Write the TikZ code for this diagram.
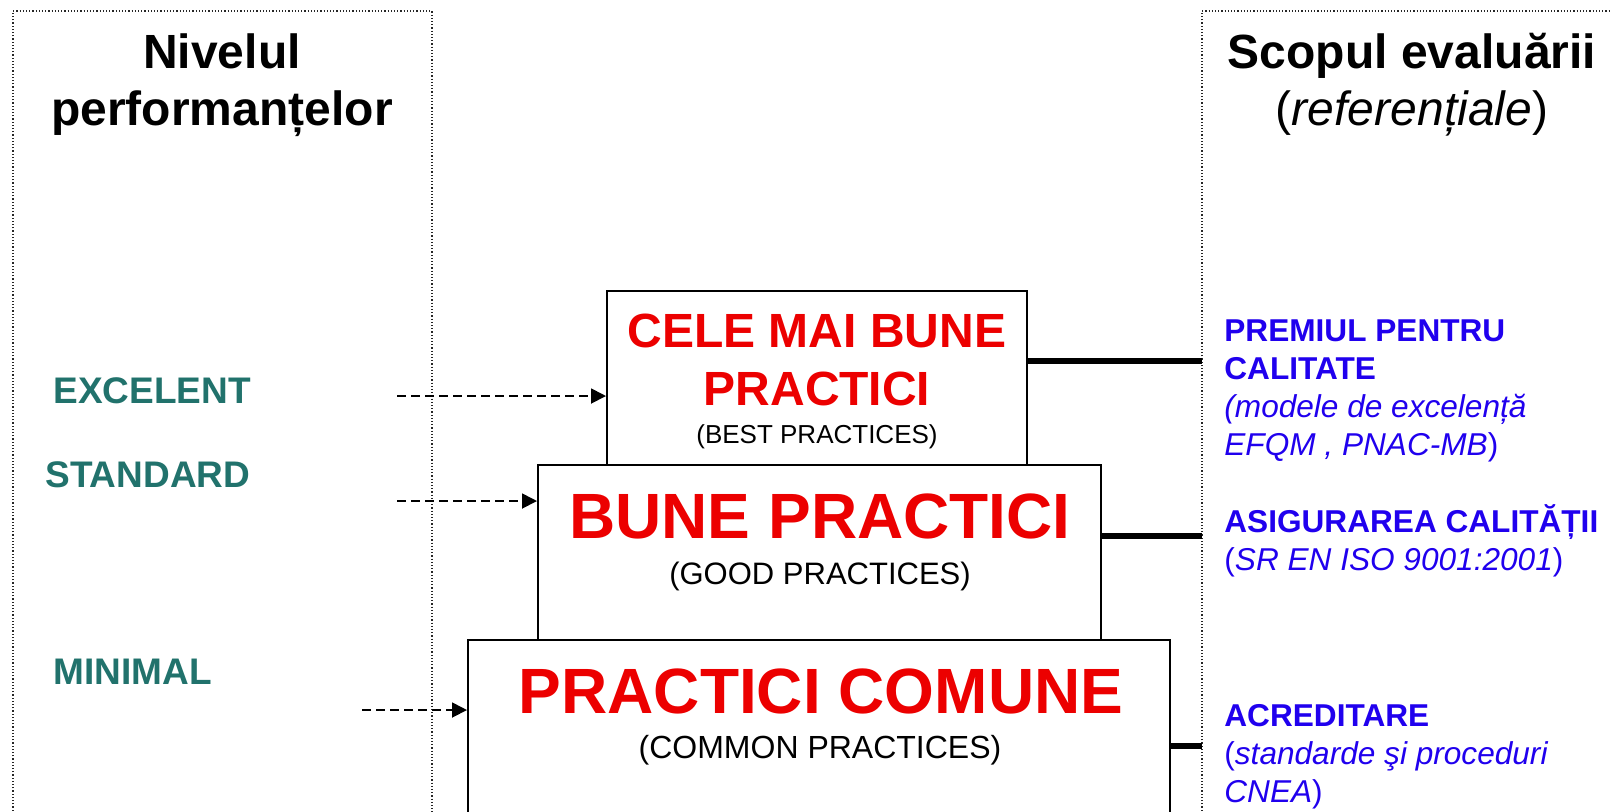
\documentclass[tikz,border=0pt]{standalone}
\usepackage{fontspec}
\setmainfont{Liberation Sans}
\usetikzlibrary{arrows.meta,positioning}

\definecolor{levelteal}{RGB}{33,114,108}
\definecolor{practred}{RGB}{236,0,0}
\definecolor{goalblue}{RGB}{32,0,238}

\tikzset{
  frame/.style={line width=0.6pt, densely dotted, black!85},
  practice box/.style={draw, line width=1pt, fill=white, inner sep=0pt},
  practice title/.style={text=practred, align=center, inner sep=0pt, anchor=base},
  practice sub/.style={align=center, inner sep=0pt, anchor=base},
  level/.style={text=levelteal, font=\fontsize{18.5}{22}\selectfont\bfseries, anchor=base west, inner sep=0pt},
  goal/.style={text=goalblue, font=\fontsize{15.8}{19}\selectfont, align=left, anchor=base west, inner sep=0pt},
  heading/.style={font=\fontsize{24}{28.5}\selectfont, align=center, anchor=base, inner sep=0pt},
  link/.style={line width=2.6pt},
  level arrow/.style={-{Triangle[length=7.5pt,width=7.5pt]}, line width=0.9pt, dash pattern=on 4.5pt off 2.5pt},
}

\begin{document}
\begin{tikzpicture}[x=0.5pt, y=-0.5pt]

    \useasboundingbox (0,0) rectangle (1610,811);
    \clip (0,0) rectangle (1610,811);

    % dotted frames
    \draw [frame] (13,830) -- (13,11) -- (432,11) -- (432,830);
    \draw [frame] (1202,830) -- (1202,11) -- (1630,11);

    % headings (base = last line)
    \node [heading] (head-level) at (222,125) {\textbf{Nivelul}\\\textbf{performanțelor}};
    \node [heading] (head-goal) at (1412,125) {\textbf{Scopul evaluării}\\(\textit{referențiale})};

    % practice boxes
    \node [practice box, minimum width=351pt, minimum height=130pt] (common) at (819,770) {};
    \node [practice box, minimum width=281.5pt, minimum height=87.5pt] (good) at (819.5,552.5) {};
    \node [practice box, minimum width=210pt, minimum height=87pt] (best) at (817,378) {};

    % practice texts
    \node [practice title, font=\fontsize{24}{29}\selectfont\bfseries] (best-title) at (817,405) {CELE MAI BUNE\\PRACTICI};
    \node [practice sub, font=\fontsize{13}{15}\selectfont] (best-sub) at (817,443) {(BEST PRACTICES)};
    \node [practice title, font=\fontsize{32}{38}\selectfont\bfseries] (good-title) at (820,538) {BUNE PRACTICI};
    \node [practice sub, font=\fontsize{15.5}{18}\selectfont] (good-sub) at (820,584) {(GOOD PRACTICES)};
    \node [practice title, font=\fontsize{32}{38}\selectfont\bfseries] (common-title) at (821,713) {PRACTICI COMUNE};
    \node [practice sub, font=\fontsize{16}{19}\selectfont] (common-sub) at (820,758) {(COMMON PRACTICES)};

    % performance levels
    \foreach \name/\txt/\x/\y in {excelent/EXCELENT/53/403, standard/STANDARD/45/487, minimal/MINIMAL/53/684}
        \node [level] (level-\name) at (\x,\y) {\txt};

    % dashed arrows into the boxes
    \foreach \pract/\x/\y in {best/397/396, good/397/501, common/362/710} {
        \coordinate (from-\pract) at (\x,\y);
        \draw [level arrow] (from-\pract) -- (\pract.west |- from-\pract);
    }

    % links to the right frame
    \foreach \pract/\y in {best/361, good/536, common/746} {
        \coordinate (goal-\pract) at (1202,\y);
        \draw [link] (\pract.east |- goal-\pract) -- (goal-\pract);
    }

    % goals (base = last line)
    \node [goal] (goal-prize) at (1224,455)
        {\textbf{PREMIUL PENTRU}\\\textbf{CALITATE}\\\textit{(modele de excelență}\\\textit{EFQM , PNAC-MB})};
    \node [goal] (goal-quality) at (1224,570)
        {\textbf{ASIGURAREA CALITĂȚII}\\(\textit{SR EN ISO 9001:2001})};
    \node [goal] (goal-accred) at (1224,802)
        {\textbf{ACREDITARE}\\(\textit{standarde şi proceduri}\\\textit{CNEA})};

\end{tikzpicture}
\end{document}
